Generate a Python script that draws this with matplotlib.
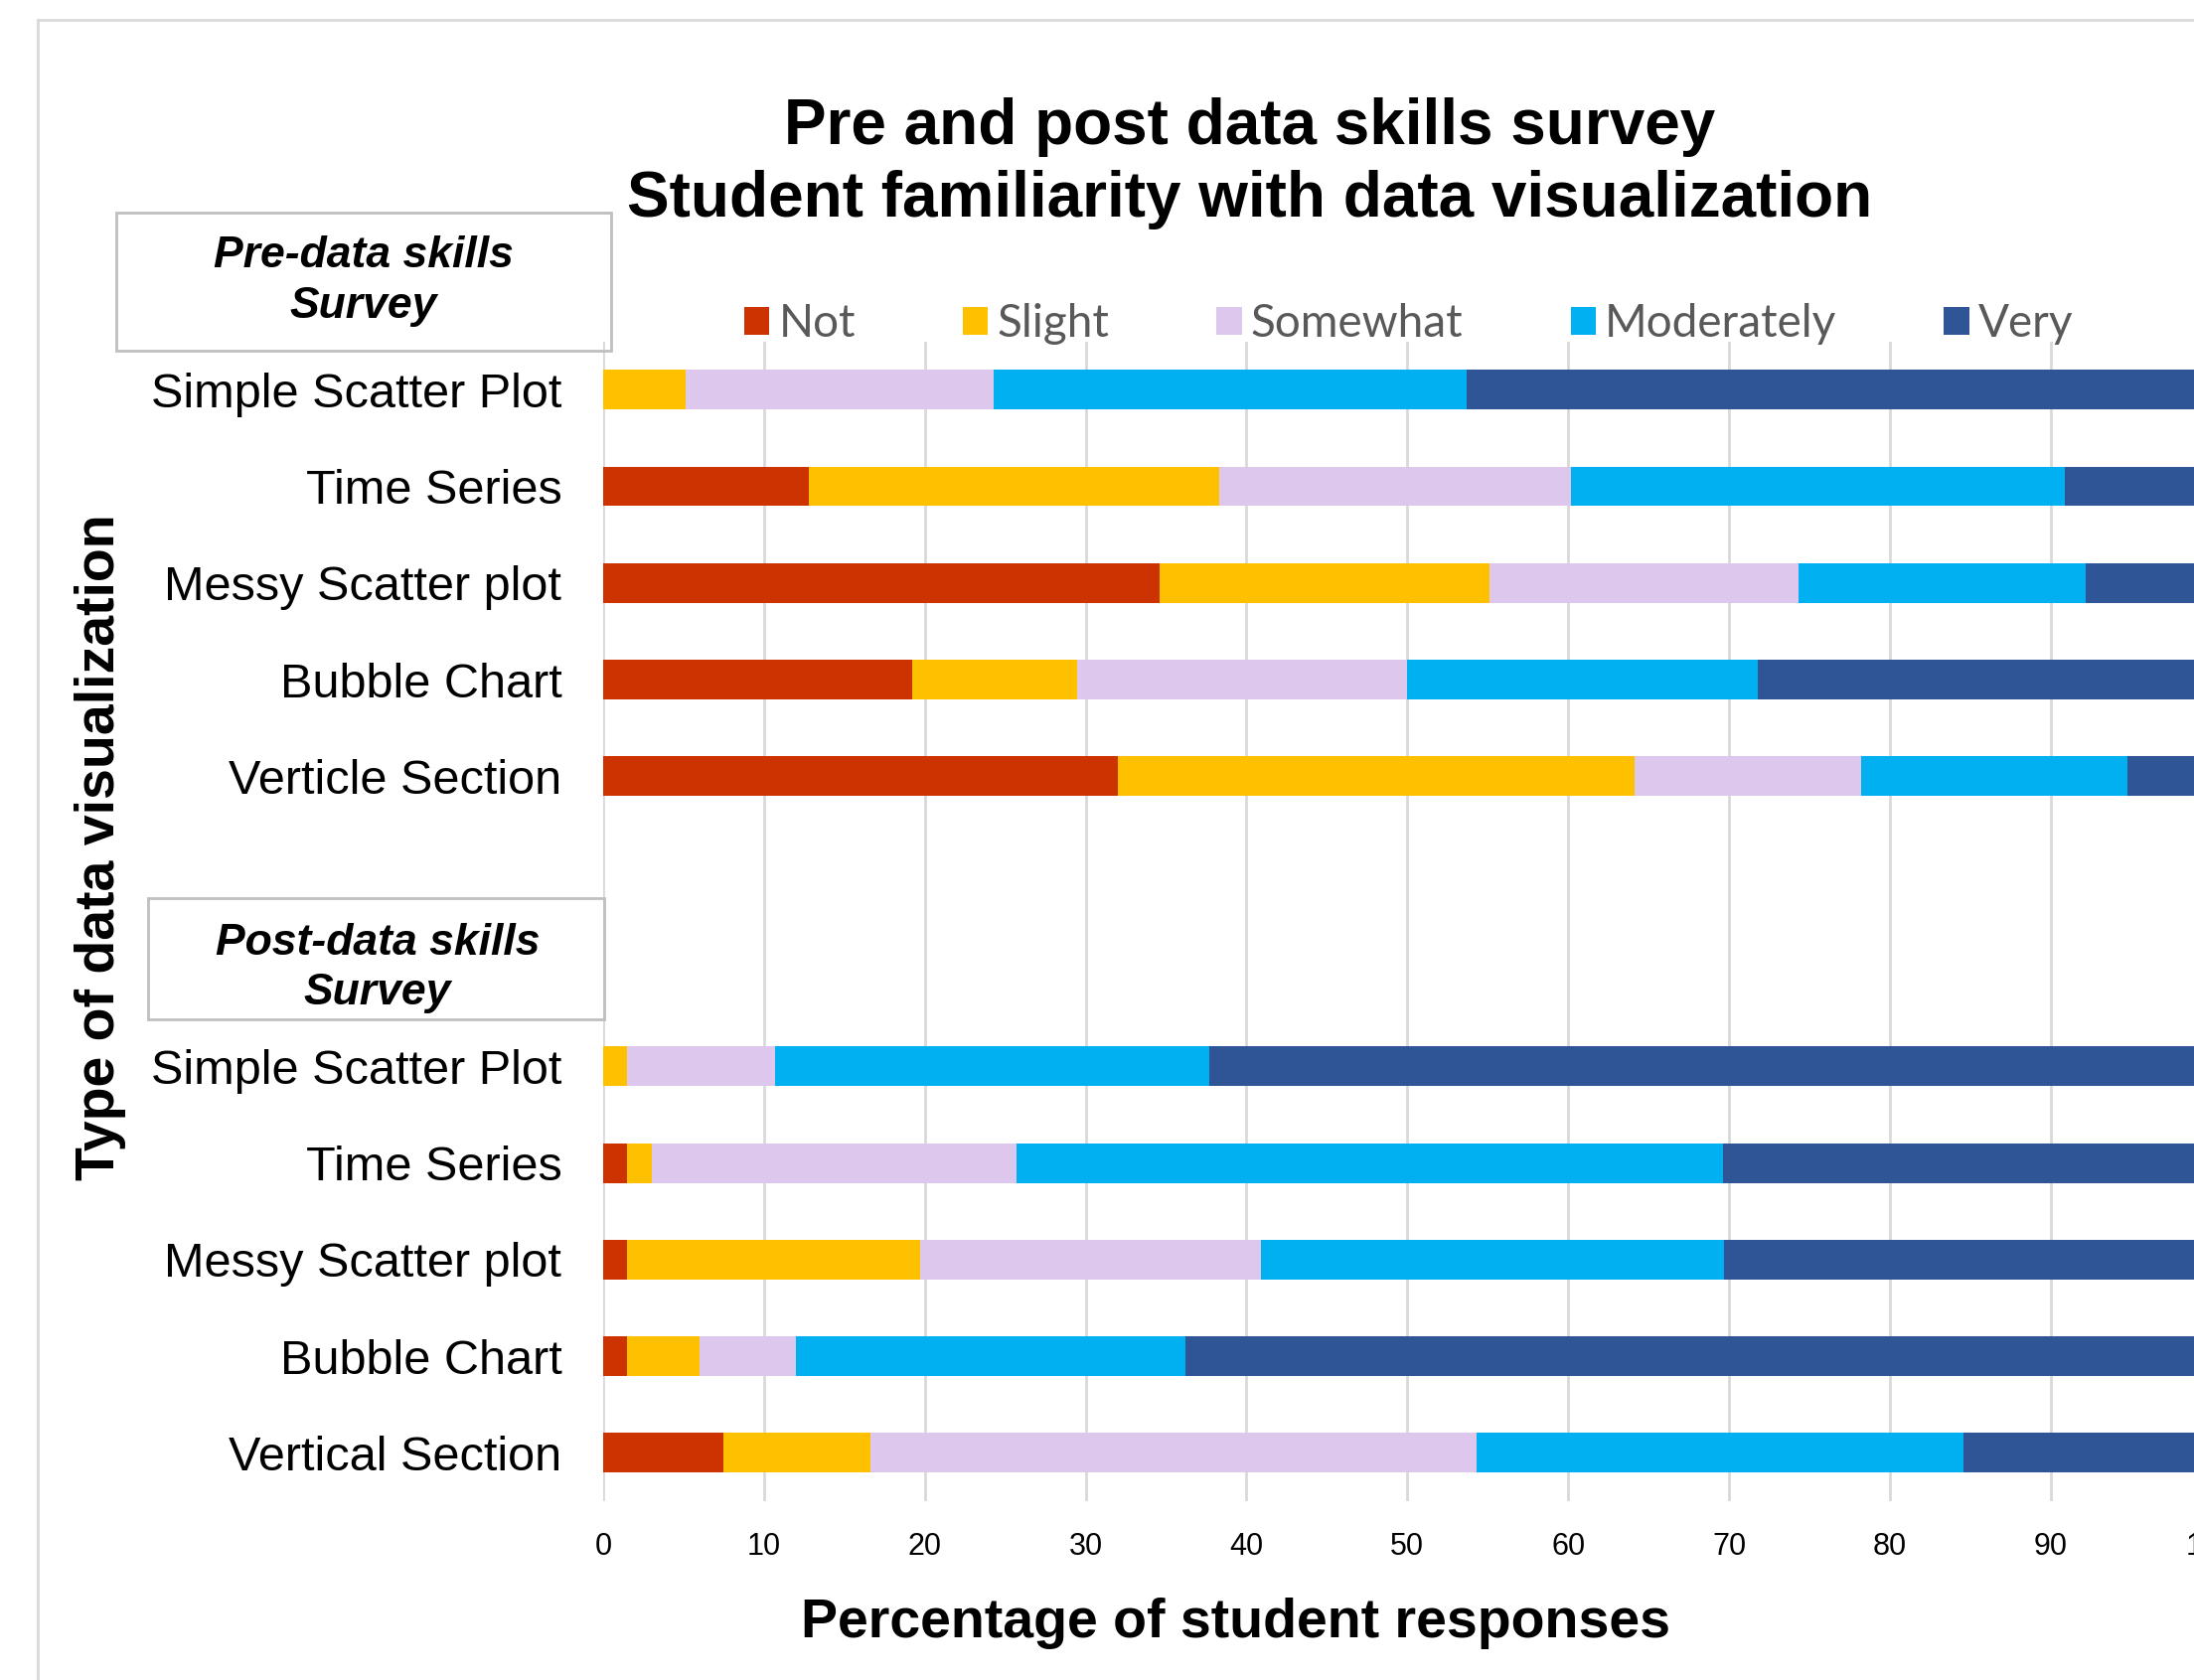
import matplotlib.pyplot as plt
from matplotlib.patches import Rectangle, Patch
from matplotlib.lines import Line2D

# categorias (pre e pos)
pre_labels = ["Simple Scatter Plot", "Time Series", "Messy Scatter plot", "Bubble Chart", "Verticle Section"]
post_labels = ["Simple Scatter Plot", "Time Series", "Messy Scatter plot", "Bubble Chart", "Vertical Section"]
niveis = ["Not", "Slight", "Somewhat", "Moderately", "Very"]
cores = ["#CC3300", "#FFC000", "#DDC7EC", "#00B0F0", "#2F5597"]

# percentuais (Not, Slight, Somewhat, Moderately, Very)
pre_not = [0.0, 12.8, 34.6, 19.2, 32.0]
pre_slight = [5.1, 25.5, 20.5, 10.3, 32.1]
pre_somewhat = [19.2, 21.9, 19.2, 20.5, 14.1]
pre_moderately = [29.4, 30.7, 17.9, 21.8, 16.6]
pre_very = [46.3, 9.1, 7.8, 28.2, 5.2]

post_not = [0.0, 1.5, 1.5, 1.5, 7.5]
post_slight = [1.5, 1.5, 18.2, 4.5, 9.1]
post_somewhat = [9.2, 22.7, 21.2, 6.0, 37.7]
post_moderately = [27.0, 43.9, 28.8, 24.2, 30.3]
post_very = [62.3, 30.4, 30.3, 63.8, 15.4]

FONTE = "Liberation Sans"

fig = plt.figure(figsize=(22.08, 16.91), dpi=100)
ax = fig.add_axes([0.2749, 0.1064, 0.7331, 0.6904])

pos_pre = list(range(5))
pos_post = [p + 7 for p in range(5)]
series_pre = [pre_not, pre_slight, pre_somewhat, pre_moderately, pre_very]
series_post = [post_not, post_slight, post_somewhat, post_moderately, post_very]

for posicoes, series in [(pos_pre, series_pre), (pos_post, series_post)]:
    esquerda = [0.0] * 5
    for vals, cor in zip(series, cores):
        ax.barh(posicoes, vals, left=esquerda, height=0.41, color=cor, zorder=3)
        esquerda = [a + b for a, b in zip(esquerda, vals)]

ax.set_xlim(0, 100)
ax.set_ylim(11.5, -0.5)
ax.set_xticks(range(0, 101, 10))
ax.set_yticks(pos_pre + pos_post)
ax.set_yticklabels(pre_labels + post_labels, fontsize=35, family=FONTE)
for lbl in ax.get_xticklabels():
    lbl.set_family(FONTE)
ax.tick_params(axis="x", labelsize=22, length=0, pad=22)
ax.tick_params(axis="y", length=0, pad=30)
ax.grid(axis="x", color="#D9D9D9", linewidth=2, zorder=0)
for s in ax.spines.values():
    s.set_visible(False)

# rotulos dos eixos (o eixo passa da borda da figura, por isso fig.text)
fig.text(0.5632, 0.0340, "Percentage of student responses", fontsize=40, fontweight="bold",
         family=FONTE, ha="center", va="center")
fig.text(0.0459, 0.496, "Type of data visualization", rotation=90, fontsize=40, fontweight="bold",
         family=FONTE, ha="center", va="center")

# titulo
fig.text(0.5698, 0.9246, "Pre and post data skills survey", fontsize=46, fontweight="bold",
         family=FONTE, ha="center", va="center")
fig.text(0.5698, 0.8810, "Student familiarity with data visualization", fontsize=46, fontweight="bold",
         family=FONTE, ha="center", va="center")

# legenda
handles = [Patch(facecolor=c, edgecolor="none") for c in cores]
leg = fig.legend(handles, niveis, loc="center", bbox_to_anchor=(0.642, 0.8070), ncol=5, frameon=False,
                 prop={"family": "Lato", "size": 33}, handlelength=0.55, handleheight=0.55,
                 handletextpad=0.2, columnspacing=2.36)
for t in leg.get_texts():
    t.set_color("#595959")

# caixas de texto
fig.patches.append(Rectangle((0.053, 0.7913), 0.2255, 0.0821, transform=fig.transFigure,
                             fill=False, edgecolor="#BFBFBF", linewidth=2))
fig.text(0.1658, 0.8327, "Pre-data skills\nSurvey", fontsize=32, fontweight="bold", style="italic",
         family=FONTE, ha="center", va="center", linespacing=1.3)
fig.patches.append(Rectangle((0.0675, 0.3933), 0.2079, 0.0721, transform=fig.transFigure,
                             fill=False, edgecolor="#BFBFBF", linewidth=2))
fig.text(0.1721, 0.4238, "Post-data skills\nSurvey", fontsize=32, fontweight="bold", style="italic",
         family=FONTE, ha="center", va="center", linespacing=1.3)

# borda externa
fig.add_artist(Line2D([0.0172, 0.0172], [0.0, 0.988], transform=fig.transFigure, color="#D9D9D9", linewidth=2))
fig.add_artist(Line2D([0.0172, 1.0], [0.988, 0.988], transform=fig.transFigure, color="#D9D9D9", linewidth=2))

fig.savefig("out.png", dpi=100)
